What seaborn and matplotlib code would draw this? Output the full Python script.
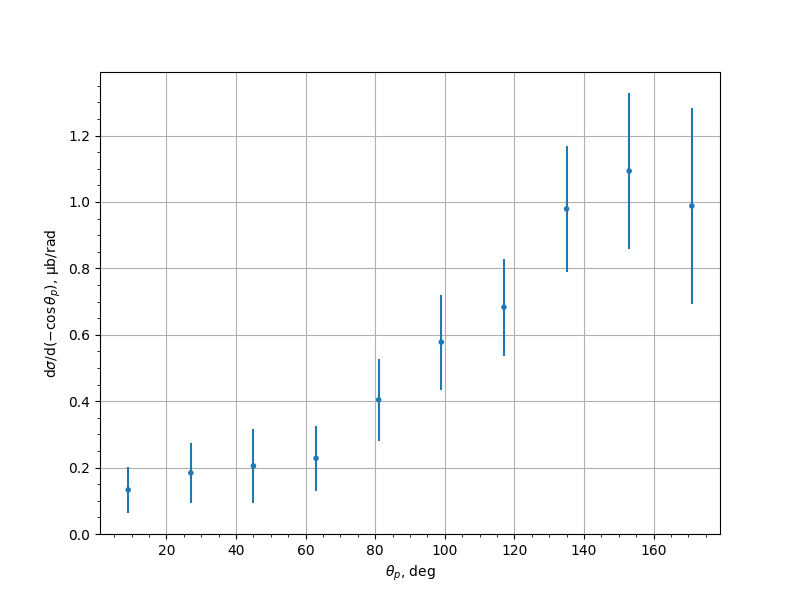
import numpy as np
import pandas as pd
import matplotlib
matplotlib.use('Agg')
import matplotlib.pyplot as plt
import seaborn as sns

# angular bins (deg), cross section and errors
theta = [9, 27, 45, 63, 81, 99, 117, 135, 153, 171]
dsigma = [0.133, 0.184, 0.205, 0.228, 0.404, 0.578, 0.683, 0.979, 1.093, 0.988]
err = [0.070, 0.090, 0.112, 0.098, 0.124, 0.143, 0.146, 0.190, 0.235, 0.295]

df = pd.DataFrame({'theta': theta, 'dsigma': dsigma, 'err': err})

fig, ax = plt.subplots(figsize=(8, 6), dpi=100)
ax.errorbar(df['theta'], df['dsigma'], yerr=df['err'], fmt='none', ecolor='#1f77b4', lw=1.5)
sns.scatterplot(data=df, x='theta', y='dsigma', ax=ax, color='#1f77b4', s=16,
                edgecolor='none', zorder=3)
ax.set_ylim(bottom=0)
ax.minorticks_on()
ax.grid(True, which='major')
ax.set_xlabel(r'$\theta_p$, deg')
ax.set_ylabel(r'd$\sigma$/d$(-\cos\theta_p)$, μb/rad')
fig.savefig('out.png', dpi=100)
